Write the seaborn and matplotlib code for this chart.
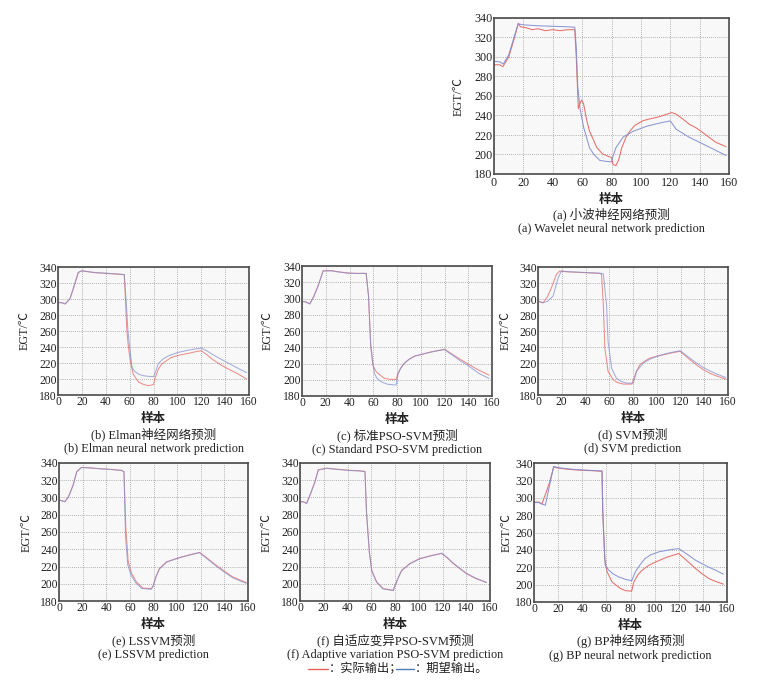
import numpy as np
import pandas as pd
import matplotlib
matplotlib.use("Agg")
import matplotlib.pyplot as plt
import seaborn as sns

# ---------------- data ----------------
xticks = [0, 20, 40, 60, 80, 100, 120, 140, 160]
yticks = [180, 200, 220, 240, 260, 280, 300, 320, 340]

# (a) Wavelet NN
a_x_act = [0, 4, 6, 10, 14, 16.5, 18, 22, 26, 30, 35, 40, 45, 50, 55, 56, 57.4, 58.5, 59.6, 61, 63, 65, 68, 70, 74, 78, 80, 81, 83, 85, 87, 90, 92.5, 96, 101.5, 106, 110.6, 115, 121, 124, 128, 133, 138, 142, 147, 151, 155, 158]
a_act = [292, 292, 290, 300, 320, 334.5, 331, 330, 328, 329, 327, 328, 327, 328, 328, 300, 247, 252, 256, 252, 236, 224, 214, 207, 200.5, 198, 197, 190, 188.5, 195, 207, 218, 224, 230, 234.7, 236.5, 238, 240, 243, 241.5, 237, 231, 227, 222.7, 217, 212.5, 210, 208]
a_x_exp = [0, 4, 6.3, 10, 14, 16.5, 20, 30, 40, 50, 55, 56, 57, 58.5, 61, 65, 68, 72, 76, 80, 81, 83, 88, 95, 104, 112, 120, 124, 133, 142, 150, 156, 158]
a_exp = [295.6, 295, 292.8, 302, 322, 334, 333, 332, 331.5, 331, 330.5, 310, 270, 248, 228, 207, 200, 194, 193, 192.5, 198, 207, 218, 224, 229, 232, 234.5, 226, 217.6, 211, 205, 200.5, 199]

# (b) Elman NN
b_x_act = [0, 3, 6, 10, 14, 17, 20, 30, 40, 50, 55.5, 56.5, 57.7, 59, 60.5, 63, 67.5, 72, 76, 80, 81.5, 84, 87, 95, 102, 109, 115, 120, 125, 129, 135, 140, 150, 158]
b_act = [295.8, 295.5, 293.75, 300, 318, 333, 335.4, 333, 332, 331, 330.4, 300, 260, 240, 223, 206, 196, 193, 191.7, 193, 202, 212, 219, 227, 230, 232, 234, 235.4, 230, 225, 219, 214.6, 207, 200]
b_x_exp = [0, 3, 6, 10, 14, 17, 20, 30, 40, 50, 55.5, 57, 58.5, 60, 62, 64, 67.5, 72, 76, 80, 82, 84, 88, 92.6, 100, 109, 115, 120, 125, 129, 135, 140, 150, 158]
b_exp = [295.5, 295.3, 294, 300.5, 319, 333.5, 335, 333.3, 332.3, 331.3, 330.6, 300, 262, 240, 214.6, 210, 206, 204, 203.3, 203, 210, 219, 225, 229, 233, 236, 237.5, 238.7, 235, 231, 226, 222, 214, 208]

# (c) Standard PSO-SVM
c_x_act = [0, 3, 6.6, 10, 13.6, 17.8, 24.8, 30, 38.7, 45, 54, 56, 57.8, 59.7, 62, 64, 69.5, 75, 79.3, 80.7, 83, 86, 90, 94.7, 100, 108.7, 115, 120, 128, 134, 139.4, 145, 150, 157.6]
c_act = [296.3, 296, 293.5, 303, 316, 334.3, 334.3, 333, 331.4, 331, 331, 303.7, 242.4, 218, 211, 207.8, 201.6, 200.5, 200.4, 207.8, 214, 220, 225, 229, 231, 234.3, 236, 237.6, 230, 224.5, 220, 215, 211, 205.7]
c_x_exp = [0, 3, 6.6, 10, 13.6, 17.8, 24.8, 30, 38.7, 45, 54, 56, 57.8, 59.7, 61, 63, 66.7, 72, 79.3, 80.7, 83, 86, 90, 94.7, 100, 108.7, 115, 120, 128, 134, 139.4, 145, 150, 157.6]
c_exp = [296, 295.8, 293.2, 302.5, 315.5, 333.8, 334, 332.8, 331.2, 330.8, 330.8, 303, 245, 220, 207.8, 202, 197.5, 194.5, 193.5, 205.7, 214, 220, 225, 229, 231, 234, 236, 237, 229, 222.5, 218, 212, 207, 201.6]

# (d) SVM
d_x_act = [0, 4.2, 8, 11.3, 15.5, 18.3, 24, 38, 52, 53.5, 55, 56.3, 59, 63.4, 67, 72, 79, 80.3, 83, 86, 90, 94, 100, 108.5, 115, 119.7, 128, 134, 139.4, 145, 150, 156, 158]
d_act = [297.3, 295, 303, 314, 330.8, 335, 334, 333, 332, 330.8, 293, 238.7, 209.5, 199, 195.5, 193.6, 193.6, 199, 210, 218, 222.5, 226, 228.5, 231.2, 233.3, 234.6, 224, 217, 211.5, 207, 204, 201, 200]
d_x_exp = [0, 4.2, 8, 12.7, 17, 19.7, 24, 38, 52, 55, 57.7, 59, 62, 66, 70, 74.6, 80.3, 83, 88.7, 94, 100, 108.5, 115, 119.7, 128, 134, 139, 145, 150, 156, 158]
d_exp = [297, 295.5, 297, 303.6, 326.6, 335, 334.3, 333.3, 332.3, 331.5, 293, 247, 213.6, 201, 197, 194.8, 194.8, 209.5, 220, 224.5, 228.3, 232, 234, 235.4, 226, 219.5, 214.5, 210, 206.5, 203, 202]

# (e) LSSVM
e_x_act = [0, 5, 8, 12, 15, 19, 25, 35, 45, 53, 55, 56.6, 58.6, 61.4, 65.6, 71, 78.3, 79.7, 82, 85, 91, 99.4, 105, 112, 119, 127.6, 133, 138.9, 147, 153, 158.6]
e_act = [297.3, 295.3, 301, 314.8, 330, 335, 334.5, 333.4, 332.5, 331.5, 330, 264, 225.4, 212, 202, 195, 194.4, 198, 208, 217.7, 225.4, 229.3, 231.5, 234, 236.3, 227.4, 221.5, 215.7, 208, 204.5, 201.4]
e_x_exp = [0, 5, 8, 12, 15, 19, 25, 35, 45, 53, 55, 56.3, 58.2, 61, 65, 70, 78, 79.7, 82, 85, 91, 99.4, 105, 112, 119, 127.6, 133, 138.9, 147, 153, 158.6]
e_exp = [297, 295, 300.5, 314, 329.5, 334.7, 334.3, 333.2, 332.3, 331.3, 330, 255, 222, 210, 201, 194.5, 193.5, 197, 207.5, 217, 225, 229, 231.3, 233.8, 236, 226.5, 220.5, 214.5, 207, 203.5, 200.5]

# (f) Adaptive variation PSO-SVM
f_x_act = [0, 3, 5.6, 9, 12.6, 15.4, 22.5, 30, 42, 50, 54.7, 56, 58.4, 60.4, 64.6, 70, 78.6, 80, 83, 85.6, 92.6, 101, 110, 119.3, 124, 129, 135, 140, 148, 157]
f_act = [295.3, 295, 293.4, 305, 318.6, 332.2, 334, 333, 331.5, 331, 330.3, 283.7, 237, 215.7, 202, 194.4, 192.5, 198.3, 208, 215.7, 223.5, 229.3, 232.5, 235.1, 230, 223.5, 217, 211.8, 206, 201.4]
f_x_exp = [0, 3, 5.6, 9, 12.6, 15.4, 22.5, 30, 42, 50, 54.7, 56, 58.4, 60.4, 64.6, 70, 78.6, 80, 83, 85.6, 92.6, 101, 110, 119.3, 124, 129, 135, 140, 148, 157]
f_exp = [295, 294.8, 293, 304.5, 318, 331.8, 333.7, 332.7, 331.3, 330.8, 330, 282, 236, 214.5, 201.5, 194, 192, 197.5, 207.5, 215.2, 223.2, 229, 232.2, 235.5, 230.5, 224, 217.5, 212.3, 206.5, 201.8]

# (g) BP NN
g_x_act = [0, 4, 6.6, 10, 13, 16.3, 20.5, 30, 40, 50, 56.4, 57, 58.6, 60.6, 64.7, 71.6, 76, 81, 82.7, 86, 89.6, 95, 100.7, 110, 120, 128, 134, 139, 145, 150, 157]
g_act = [295, 295, 293, 306, 318, 335.4, 334, 332.5, 331.6, 331, 330.4, 283.7, 230, 214.7, 203, 195.6, 193, 192.5, 203, 211, 216.6, 222, 226, 231.5, 235.8, 226, 218.5, 212.8, 207, 204, 200.5]
g_x_exp = [0, 4, 6, 9.4, 13, 16.3, 20.5, 30, 40, 50, 56.4, 57, 59, 62, 66, 70, 76, 81, 84, 88, 92, 97, 103.5, 112, 120, 128, 134, 139, 145, 150, 157]
g_exp = [294.5, 294.5, 293, 291.3, 315, 336, 334.5, 333, 332, 331.3, 330.8, 284, 222.4, 216.6, 212, 209, 206, 204.5, 214.7, 223, 230, 234.5, 237.7, 240, 241.5, 234, 228, 224.3, 220, 217, 212]

cap_cn = ["(a) 小波神经网络预测", "(b) Elman神经网络预测", "(c) 标准PSO-SVM预测", "(d) SVM预测",
          "(e) LSSVM预测", "(f) 自适应变异PSO-SVM预测", "(g) BP神经网络预测"]
cap_en = ["(a) Wavelet neural network prediction", "(b) Elman neural network prediction",
          "(c) Standard PSO-SVM prediction", "(d) SVM prediction", "(e) LSSVM prediction",
          "(f) Adaptive variation PSO-SVM prediction", "(g) BP neural network prediction"]
xlabel = "样本"
ylabel = "EGT/℃"
legend_labels = ["实际输出", "期望输出"]

# ---------------- style ----------------
sns.set_style("whitegrid")
FAM = ["Liberation Serif", "Noto Sans CJK SC", "DejaVu Sans"]
plt.rcParams["font.family"] = FAM
plt.rcParams["axes.unicode_minus"] = False

W, H = 757, 692
fig = plt.figure(figsize=(W / 100, H / 100), dpi=100)
fig.patch.set_facecolor("white")

RED = "#e4605c"
BLUE = "#7f8cd0"

def px(x, y):
    return x / W, 1 - y / H

# panel boxes in pixels: left, right, top, bottom
boxes = [
    (494, 729, 18, 174),
    (58, 249, 267, 395),
    (302, 492, 266, 396),
    (538, 728, 267, 395),
    (59, 248, 463, 601),
    (300, 490, 463, 601),
    (534, 727, 463, 602),
]
ylab_x = [459, 25, 268, 506, 27, 267, 507]
series = [
    (a_x_act, a_act, a_x_exp, a_exp),
    (b_x_act, b_act, b_x_exp, b_exp),
    (c_x_act, c_act, c_x_exp, c_exp),
    (d_x_act, d_act, d_x_exp, d_exp),
    (e_x_act, e_act, e_x_exp, e_exp),
    (f_x_act, f_act, f_x_exp, f_exp),
    (g_x_act, g_act, g_x_exp, g_exp),
]

for i, (box, ser) in enumerate(zip(boxes, series)):
    l, r, t, b = box
    ax = fig.add_axes([l / W, 1 - b / H, (r - l) / W, (b - t) / H])
    xa, ya, xe, ye = ser
    df = pd.concat([
        pd.DataFrame({"x": xa, "y": ya, "s": legend_labels[0]}),
        pd.DataFrame({"x": xe, "y": ye, "s": legend_labels[1]}),
    ], ignore_index=True)
    sns.lineplot(data=df, x="x", y="y", hue="s", palette=[RED, BLUE],
                 hue_order=legend_labels,
                 ax=ax, linewidth=0.75, legend=False, sort=False,
                 estimator=None, alpha=0.9 if i in (0, 6) else 0.7)
    ax.set_xlim(0, 160)
    ax.set_ylim(180, 340)
    ax.set_xticks(xticks)
    ax.set_yticks(yticks)
    fs = 8.7 if i == 0 else 8.4
    ax.set_xticklabels([str(v) for v in xticks], fontsize=fs, color="#222222")
    ax.set_yticklabels([str(v) for v in yticks], fontsize=fs, color="#222222")
    ax.tick_params(axis="both", length=0, pad=1)
    if i == 0:
        ax.tick_params(axis="x", pad=2.5)
    ax.set_xlabel("")
    ax.set_ylabel("")
    ax.set_facecolor("#f8f8f8")
    ax.grid(True, linestyle=(0, (1, 1.5)), color="#9a9a9a", linewidth=0.6)
    for sp in ax.spines.values():
        sp.set_color("#4a4a4a")
        sp.set_linewidth(1.2)
    cx = (l + r) / 2
    off = 1.5 if i == 0 else 0
    fig.text(*px(ylab_x[i], (t + b) / 2), ylabel, rotation=90, ha="center",
             va="center", fontsize=8.7, color="#222222")
    fig.text(*px(cx, b + 24 + off), xlabel, ha="center", va="center",
             fontsize=9, fontweight="bold", color="#222222")
    fig.text(*px(cx, b + 39 + off), cap_cn[i], ha="center", va="center",
             fontsize=9.0, color="#222222")
    fig.text(*px(cx, b + 54 + off), cap_en[i], ha="center", va="center",
             fontsize=8.8, color="#222222")

# bottom legend line
ly = 669
fig.add_artist(plt.Line2D([308 / W, 328 / W], [1 - ly / H] * 2, color=RED, lw=1.0))
fig.text(*px(329, ly), "：" + legend_labels[0] + "；", ha="left", va="center",
         fontsize=8.8, color="#222222")
fig.add_artist(plt.Line2D([396 / W, 414 / W], [1 - ly / H] * 2, color="#4a7fc0", lw=1.0))
fig.text(*px(415, ly), "：" + legend_labels[1] + "。", ha="left", va="center",
         fontsize=8.8, color="#222222")

fig.savefig("out.png", dpi=100, facecolor="white")
